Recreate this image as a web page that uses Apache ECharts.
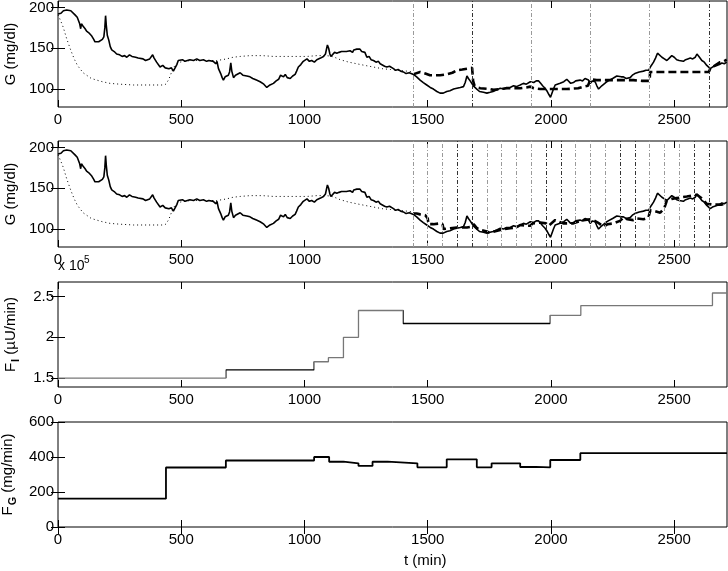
<!DOCTYPE html>
<html>
<head>
<meta charset="utf-8">
<script src="https://cdn.jsdelivr.net/npm/echarts@6/dist/echarts.min.js"></script>
<style>html,body{margin:0;padding:0;background:#fff}#c{width:728px;height:571px}</style>
</head>
<body>
<div id="c"></div>
<script>
// ---- data ----
const tTicks = [0, 500, 1000, 1500, 2000, 2500];
const gTicks = [100, 150, 200];
const fiTicks = [1.5, 2, 2.5];
const fgTicks = [0, 200, 400, 600];

// measured glucose (t min, G mg/dl)
const glucoseMeasured = [[0,192],[4,194],[12,193],[22,196],[35,197],[52,196],[60,194],[69,191],[78,188],[83,184],[88,180],[92,174],[95,180],[102,177],[110,174],[116,171],[125,169],[137,165],[145,161],[150,158],[158,160],[165,158],[172,160],[180,161],[186,164],[190,175],[193,190],[196,178],[200,166],[206,160],[212,152],[218,148],[228,146],[238,143],[250,142],[260,140],[270,141],[279,139],[290,142],[300,140],[306,142],[315,139],[325,138],[333,136],[345,137],[355,135],[363,135],[372,137],[380,139],[384,142],[390,138],[400,133],[407,131],[414,127],[425,129],[435,126],[441,127],[450,125],[460,126],[468,122],[475,124],[482,130],[488,135],[495,134],[505,136],[515,134],[522,135],[535,136],[550,135],[563,137],[575,135],[590,136],[603,134],[612,135],[620,133],[630,134],[640,131],[645,134],[651,125],[660,119],[666,114],[671,111],[678,115],[685,113],[691,117],[696,121],[701,132],[705,122],[712,114],[720,117],[728,118],[739,120],[750,117],[766,116],[779,115],[790,113],[805,111],[820,109],[835,106],[847,102],[860,105],[874,107],[885,110],[895,112],[903,117],[908,119],[915,115],[922,118],[930,114],[942,113],[952,116],[962,118],[968,122],[975,127],[985,130],[995,134],[1002,135],[1010,137],[1020,134],[1029,135],[1040,133],[1050,136],[1056,135],[1065,138],[1077,140],[1085,143],[1090,150],[1093,154],[1098,150],[1103,143],[1107,140],[1115,142],[1122,145],[1131,144],[1140,145],[1150,146],[1158,145],[1170,146],[1178,145],[1185,147],[1195,145],[1200,148],[1205,150],[1212,149],[1220,147],[1225,149],[1232,146],[1239,148],[1245,145],[1253,139],[1262,140],[1270,136],[1280,135],[1290,133],[1300,134],[1307,131],[1315,132],[1325,128],[1334,127],[1345,128],[1352,126],[1361,125],[1370,123],[1380,124],[1390,122],[1401,121],[1412,119],[1425,120],[1442,118],[1455,115],[1469,111],[1482,108],[1496,105],[1510,102],[1523,100],[1537,97],[1550,95],[1563,95],[1577,97],[1590,98],[1605,100],[1618,101],[1632,102],[1645,103],[1652,108],[1659,116],[1665,113],[1672,110],[1679,108],[1685,104],[1692,102],[1699,100],[1710,97],[1726,96],[1740,95],[1753,96],[1765,97],[1780,99],[1794,101],[1808,100],[1820,102],[1834,102],[1848,104],[1860,103],[1875,105],[1888,107],[1900,106],[1916,109],[1930,108],[1940,110],[1950,110],[1958,107],[1966,104],[1976,101],[1985,97],[1992,93],[1998,90],[2004,91],[2010,100],[2017,105],[2025,103],[2037,107],[2045,105],[2052,109],[2064,112],[2072,110],[2080,107],[2091,108],[2100,110],[2108,109],[2118,111],[2128,110],[2138,113],[2146,115],[2152,111],[2159,107],[2168,110],[2179,109],[2186,104],[2193,100],[2200,102],[2206,104],[2213,105],[2222,108],[2232,110],[2240,111],[2250,113],[2258,114],[2267,116],[2275,114],[2285,115],[2294,115],[2305,113],[2313,115],[2321,114],[2330,117],[2340,119],[2348,120],[2358,121],[2366,122],[2375,122],[2385,123],[2396,123],[2405,128],[2416,133],[2424,138],[2432,144],[2440,142],[2450,139],[2460,137],[2470,135],[2480,138],[2490,141],[2500,139],[2510,136],[2520,135],[2528,136],[2537,134],[2546,136],[2555,137],[2565,138],[2575,137],[2585,139],[2592,143],[2600,140],[2612,135],[2622,133],[2632,129],[2640,127],[2646,125],[2655,127],[2664,128],[2673,129],[2683,130],[2693,132],[2703,131],[2713,133]];

// model glucose (dotted)
const glucoseModel = [[0,191],[5,188],[10,184],[16,180],[22,175],[28,169],[35,162],[42,156],[49,150],[59,142],[69,135],[79,129],[89,125],[102,120],[116,117],[135,113],[157,111],[180,109],[211,107],[250,106],[306,105],[360,105],[400,105],[428,105],[437,106],[441,107],[448,111],[455,116],[461,121],[468,126],[475,129],[481,131],[495,133],[509,134],[540,135],[576,135],[610,135],[644,135],[665,136],[684,137],[710,139],[739,140],[779,141],[830,141],[874,140],[940,140],[1010,140],[1050,141],[1070,141],[1090,141],[1111,140],[1130,138],[1145,136],[1180,133],[1212,131],[1245,129],[1280,127],[1315,125],[1348,124],[1380,123],[1415,122],[1440,121]];

// predicted glucose, 240-min update (dashed, top panel)
const glucosePred240 = [[1440,118],[1469,121],[1490,119],[1509,117],[1550,117],[1577,118],[1600,120],[1618,123],[1640,124],[1659,125],[1680,126],[1684,110],[1690,104],[1700,102],[1713,101],[1753,100],[1767,99],[1790,100],[1821,101],[1850,101],[1875,101],[1900,102],[1916,103],[1920,105],[1924,103],[1930,101],[1956,100],[2010,100],[2064,100],[2110,101],[2132,103],[2150,104],[2160,112],[2185,111],[2213,111],[2280,111],[2334,111],[2370,110],[2400,110],[2402,121],[2470,121],[2551,121],[2600,121],[2640,121],[2646,125],[2660,128],[2686,133],[2700,134],[2713,136]];

// predicted glucose, 60-min update (dashed, second panel)
const glucosePred60 = [[1440,119],[1455,119],[1469,118],[1490,117],[1500,113],[1503,106],[1523,106],[1550,107],[1560,106],[1564,100],[1591,101],[1618,102],[1620,101],[1640,102],[1659,102],[1680,103],[1686,106],[1700,101],[1713,99],[1740,97],[1753,95],[1770,97],[1794,99],[1800,101],[1834,101],[1860,102],[1875,105],[1900,104],[1916,104],[1925,107],[1956,108],[1980,107],[1990,104],[1997,105],[2017,111],[2040,108],[2050,107],[2091,107],[2100,108],[2132,111],[2160,112],[2172,111],[2190,108],[2213,103],[2230,106],[2254,107],[2280,110],[2294,114],[2310,112],[2334,111],[2350,113],[2375,112],[2395,114],[2403,123],[2420,122],[2443,120],[2460,126],[2470,135],[2490,137],[2510,138],[2530,139],[2551,140],[2570,141],[2592,142],[2610,138],[2632,131],[2659,130],[2690,130],[2713,131]];

// update instants
const updates240 = [1440, 1680, 1920, 2160, 2400, 2640];
const updates240Dark = [1680, 2640];
const updates60 = [1440,1500,1560,1620,1680,1740,1800,1860,1920,1980,2040,2100,2160,2220,2280,2340,2400,2460,2520,2580,2640];
const updates60Dark = [1620, 1680, 1980, 2040, 2280, 2340, 2580, 2640];

// insulin infusion (x 1e5 uU/min), step changes [t, value]
const insulinRate = [[0,1.5],[681,1.6],[1039,1.7],[1097,1.75],[1158,2.0],[1219,2.33],[1400,2.17],[1997,2.27],[2121,2.39],[2655,2.545],[2714,2.545]];
// glucose infusion (mg/min), step changes [t, value]
const glucoseRate = [[0,162],[438,340],[681,380],[1039,400],[1100,373],[1158,364],[1219,349],[1276,373],[1337,364],[1458,341],[1577,387],[1699,341],[1759,364],[1875,343],[1939,341],[1997,383],[2119,422],[2714,422]];

// ---- chart ----
const FONT = 'Liberation Sans, Arial, sans-serif';
const T_MAX = 2714;
const grids = [
  {left: 58, width: 669, top: 1, height: 106},
  {left: 58, width: 669, top: 141, height: 106},
  {left: 58, width: 669, top: 282, height: 105},
  {left: 58, width: 669, top: 422, height: 105}
].map(g => Object.assign({show: true, borderColor: '#000', borderWidth: 1, backgroundColor: 'transparent', containLabel: false, outerBoundsMode: 'none'}, g));

const plain = v => String(v);
const xAxes = [], yAxes = [];
const yCfg = [
  {min: 78, max: 208, ticks: gTicks, name: 'G (mg/dl)'},
  {min: 78, max: 208, ticks: gTicks, name: 'G (mg/dl)'},
  {min: 1.39, max: 2.68, ticks: fiTicks, name: '{a|F}{s|I}{a| (µU/min)}'},
  {min: 0, max: 600, ticks: fgTicks, name: '{a|F}{s|G}{a| (mg/min)}'}
];
for (let i = 0; i < 4; i++) {
  ['bottom', 'top'].forEach((pos, k) => {
    xAxes.push({
      type: 'value', gridIndex: i, position: pos, min: 0, max: T_MAX,
      axisLine: {show: false}, splitLine: {show: false},
      axisTick: {show: true, inside: true, length: 7, customValues: tTicks, lineStyle: {color: '#000'}},
      axisLabel: {show: k === 0, customValues: tTicks, formatter: plain, margin: 5, color: '#000', fontSize: 15, fontFamily: FONT}
    });
  });
  const c = yCfg[i];
  ['left', 'right'].forEach((pos, k) => {
    yAxes.push({
      type: 'value', gridIndex: i, position: pos, min: c.min, max: c.max,
      axisLine: {show: false}, splitLine: {show: false},
      axisTick: {show: true, inside: true, length: 7, customValues: c.ticks, lineStyle: {color: '#000'}},
      axisLabel: {show: k === 0, customValues: c.ticks, formatter: plain, margin: 4, color: '#000', fontSize: 15, fontFamily: FONT},
      name: k === 0 ? c.name : '', nameLocation: 'middle', nameGap: 37,
      nameTextStyle: {color: '#000', fontSize: 15, fontFamily: FONT,
        rich: {a: {fontSize: 15, fontFamily: FONT, color: '#000'}, s: {fontSize: 11, fontFamily: FONT, color: '#000', fontWeight: 'bold', padding: [9, 0, 0, 1]}}}
    });
  });
}

function vmarks(list, dark) {
  return {
    silent: true, symbol: 'none', label: {show: false},
    lineStyle: {type: [4, 2, 1, 2], width: 1, color: '#9a9a9a'},
    data: list.map(t => ({xAxis: t, lineStyle: {color: dark.includes(t) ? '#333' : '#9a9a9a', type: [4, 2, 1, 2], width: 1}}))
  };
}

function line(data, gi, style, extra) {
  return Object.assign({
    type: 'line', xAxisIndex: gi * 2, yAxisIndex: gi * 2, data: data,
    showSymbol: false, symbol: 'none', lineStyle: style, silent: true
  }, extra || {});
}

const solid = {color: '#000', width: 1.6};
const dotted = {color: '#000', width: 1, type: [1, 3]};
const dashed = {color: '#000', width: 2.6, type: [8, 4]};

const option = {
  animation: false,
  backgroundColor: '#fff',
  grid: grids,
  xAxis: xAxes,
  yAxis: yAxes,
  visualMap: [{
    show: false, type: 'piecewise', seriesIndex: 6, dimension: 0,
    pieces: [{gte: 681, lt: 1039, color: '#000'}, {gte: 1400, lt: 1997, color: '#000'}],
    outOfRange: {color: '#777'}
  }],
  series: [
    line(glucoseMeasured, 0, solid, {markLine: vmarks(updates240, updates240Dark), z: 3}),
    line(glucoseModel, 0, dotted),
    line(glucosePred240, 0, dashed, {z: 4}),
    line(glucoseMeasured, 1, solid, {markLine: vmarks(updates60, updates60Dark), z: 3}),
    line(glucoseModel, 1, dotted),
    line(glucosePred60, 1, dashed, {z: 4}),
    line(insulinRate, 2, {width: 1.3}, {step: 'end'}),
    line(glucoseRate, 3, {color: '#000', width: 1.8}, {step: 'end'})
  ],
  graphic: [
    {type: 'text', left: 58, top: 259, silent: true,
      style: {text: 'x 10', fontSize: 14, fontFamily: FONT, fill: '#000'}},
    {type: 'text', left: 84, top: 255, silent: true,
      style: {text: '5', fontSize: 10, fontFamily: FONT, fill: '#000'}},
    {type: 'text', left: 404, top: 553, silent: true,
      style: {text: 't (min)', fontSize: 15, fontFamily: FONT, fill: '#000'}}
  ]
};

const chart = echarts.init(document.getElementById('c'), null, {renderer: 'canvas'});
chart.setOption(option);
</script>
</body>
</html>
